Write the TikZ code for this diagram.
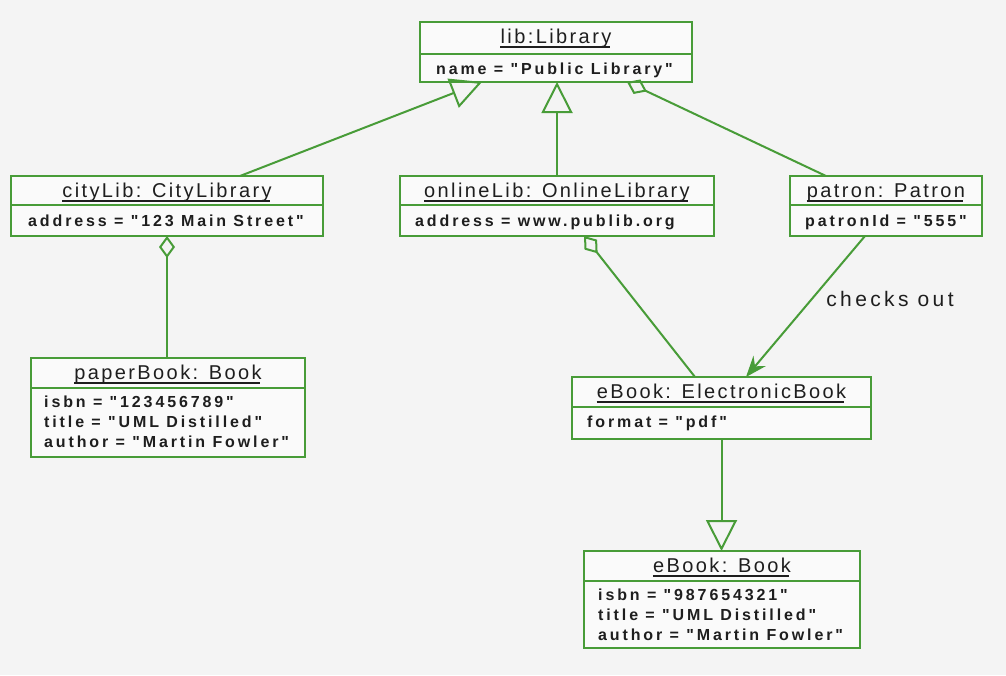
\documentclass[tikz,border=0pt]{standalone}
\usepackage{fontspec}
\setmainfont{Liberation Sans}
\newfontfamily\titlefont[LetterSpace=12]{Liberation Sans}
\newfontfamily\attrfont[LetterSpace=18]{Liberation Sans}
\newfontfamily\lblfont[LetterSpace=16]{Liberation Sans}
\usetikzlibrary{arrows.meta,calc}
\definecolor{umlgreen}{RGB}{72,156,56}
\definecolor{bgc}{RGB}{244,244,244}
\definecolor{boxfill}{RGB}{250,250,250}
\definecolor{txt}{RGB}{30,30,30}
\tikzset{
 objbox/.style={draw=umlgreen, line width=2.4pt, fill=boxfill, inner sep=0pt, outer sep=0pt},
 divline/.style={draw=umlgreen, line width=2.2pt},
 titletext/.style={inner sep=0pt, text=txt, font=\titlefont\fontsize{20}{24}\selectfont},
 ulinestyle/.style={draw=txt, line width=1.3pt},
 attrtext/.style={inner sep=0pt, text=txt, anchor=base west, font=\attrfont\bfseries\fontsize{16}{19}\selectfont},
 conn/.style={draw=umlgreen, line width=2pt},
 gen/.style={conn, -{Triangle[open, length=31pt, width=31pt]}},
 agg/.style={conn, {Diamond[open, length=22pt, width=16pt]}-},
 nav/.style={conn, -{Stealth[length=21pt, width=16pt, inset=7pt]}},
 lbl/.style={inner sep=0pt, text=txt, font=\lblfont\fontsize{21}{25}\selectfont},
}
\newcommand{\umlobj}[7]{%
 \node[objbox, anchor=north west, minimum width=#4, minimum height=#5] (#1) at (#2,#3) {};
 \draw[divline] ($(#1.north west)+(0,#6)$) coordinate (#1-dl) -- ($(#1.north east)+(0,#6)$) coordinate (#1-dr);
 \node[titletext, anchor=base] (#1-t) at ($(#1.north)+(0,21.5)$) {#7};
 \draw[ulinestyle] ($(#1-t.base west)+(0,3.5)$) -- ($(#1-t.base east)+(-2,3.5)$);
}
\begin{document}
\begin{tikzpicture}[x=1pt,y=-1pt]
\fill[bgc] (0,0) rectangle (1006,675);
\useasboundingbox (0,0) rectangle (1006,675);

\umlobj{lib}{420}{22}{272}{60}{32}{lib:Library}
\node[attrtext] (lib-a1) at ($(lib-dl)+(16,20)$) {name = "Public Library"};

\umlobj{city}{11}{176}{312}{60}{29}{cityLib: CityLibrary}
\node[attrtext] (city-a1) at ($(city-dl)+(17,21)$) {address = "123 Main Street"};

\umlobj{onl}{400}{176}{314}{60}{29}{onlineLib: OnlineLibrary}
\node[attrtext] (onl-a1) at ($(onl-dl)+(15,21)$) {address = www.publib.org};

\umlobj{pat}{790}{176}{192}{60}{29}{patron: Patron}
\node[attrtext] (pat-a1) at ($(pat-dl)+(15,21)$) {patronId = "555"};

\umlobj{paper}{31}{358}{274}{99}{30}{paperBook: Book}
\node[attrtext] (paper-a1) at ($(paper-dl)+(13,19.5)$) {isbn = "123456789"};
\node[attrtext] (paper-a2) at ($(paper-dl)+(13,39.5)$) {title = "UML Distilled"};
\node[attrtext] (paper-a3) at ($(paper-dl)+(13,59.5)$) {author = "Martin Fowler"};

\umlobj{ebk}{572}{377}{299}{62}{30}{eBook: ElectronicBook}
\node[attrtext] (ebk-a1) at ($(ebk-dl)+(15,20.5)$) {format = "pdf"};

\umlobj{bk}{584}{551}{276}{97}{30}{eBook: Book}
\node[attrtext] (bk-a1) at ($(bk-dl)+(14,19.5)$) {isbn = "987654321"};
\node[attrtext] (bk-a2) at ($(bk-dl)+(14,39.5)$) {title = "UML Distilled"};
\node[attrtext] (bk-a3) at ($(bk-dl)+(14,59.5)$) {author = "Martin Fowler"};

% connectors
\draw[gen] ($(city.north west)+(229,0)$) -- ($(lib.south west)+(62,0)$);
\draw[gen] (onl.north) -- (onl.north |- lib.south);
\draw[agg] ($(lib.south west)+(207,0)$) -- ($(pat.north west)+(36,0)$);
\draw[agg] (city.south) -- (city.south |- paper.north);
\draw[agg] ($(onl.south west)+(184,0)$) -- ($(ebk.north west)+(123,0)$);
\draw[nav] ($(pat.south west)+(75,0)$) -- ($(ebk.north west)+(174,0)$);
\node[lbl] (co) at (890,299) {checks out};
\draw[gen] (ebk.south) -- (ebk.south |- bk.north);
\end{tikzpicture}
\end{document}
